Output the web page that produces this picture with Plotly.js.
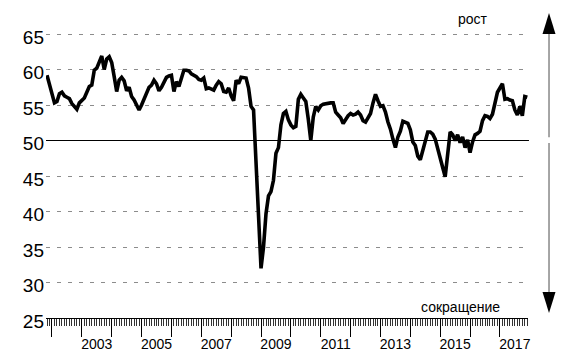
<!DOCTYPE html>
<html>
<head>
<meta charset="utf-8">
<script src="https://cdn.plot.ly/plotly-3.0.1.min.js"></script>
<style>html,body{margin:0;padding:0;background:#fff;}#chart{width:565px;height:362px;}</style>
</head>
<body>
<div id="chart"></div>
<script>
// Monthly index values, Nov 2001 .. Dec 2017
const v2001 = [59.2, 57.8]; // Nov, Dec
const v2002 = [56.5,55.3,55.5,56.6,56.8,56.3,56.1,55.9,55.2,54.8,54.4,55.3];
const v2003 = [55.7,56.0,56.8,57.6,57.8,59.9,60.2,61.0,61.9,60.0,61.5,61.8];
const v2004 = [61.0,59.0,56.9,58.5,58.9,58.4,57.0,57.5,56.2,55.7,55.0,54.3];
const v2005 = [55.0,55.8,56.5,57.5,57.8,58.5,58.0,57.0,57.5,58.3,58.9,59.1];
const v2006 = [59.2,56.9,58.3,57.6,59.0,59.9,59.9,59.8,59.4,59.2,59.0,58.6];
const v2007 = [58.5,58.8,57.3,57.4,57.3,57.1,57.8,58.3,58.0,56.9,56.8,57.4];
const v2008 = [56.3,55.6,58.5,58.0,58.9,58.9,58.8,57.4,54.8,54.3,46.5,38.5];
const v2009 = [32.0,35.0,39.7,42.2,42.8,44.4,48.2,49.0,52.2,53.8,54.1,52.9];
const v2010 = [52.2,51.8,52.0,55.8,56.5,56.0,55.5,53.0,50.0,53.3,54.8,54.3];
const v2011 = [54.9,55.1,55.2,55.2,55.3,55.3,54.0,53.6,53.2,52.4,53.0,53.5];
const v2012 = [53.8,53.6,53.7,54.0,53.6,52.8,52.6,53.2,53.8,55.3,56.5,55.6];
const v2013 = [54.8,54.9,54.0,52.6,51.6,50.2,49.0,50.5,51.3,52.7,52.6,52.4];
const v2014 = [51.5,49.8,49.3,47.8,47.3,48.5,50.1,51.2,51.2,50.9,50.2,48.7];
const v2015 = [47.6,46.2,44.9,48.2,51.2,50.8,50.0,50.8,49.7,50.5,49.0,50.1];
const v2016 = [48.3,49.8,50.8,51.0,51.3,52.8,53.5,53.4,53.1,53.7,55.5,56.8];
const v2017 = [57.4,58.0,55.8,55.9,55.7,55.6,54.3,53.6,54.8,53.5,56.2,56.1];

const startYear = 2001, startMonth = 10; // 0-based month (Nov)
const threshold = 50;
const labelYears = ['2003','2005','2007','2009','2011','2013','2015','2017'];
const yearTicks = [2002,2003,2004,2005,2006,2007,2008,2009,2010,2011,2012,2013,2014,2015,2016,2017,2018];
const yTicks = [25,30,35,40,45,50,55,60,65];
const topLabel = 'рост';
const bottomLabel = 'сокращение';

const values = [].concat(v2001,v2002,v2003,v2004,v2005,v2006,v2007,v2008,v2009,v2010,v2011,v2012,v2013,v2014,v2015,v2016,v2017);
const xs = values.map((_, i) => startYear + (startMonth + i) / 12);

const font = 'Liberation Sans, Arial, sans-serif';
const xRange = [2001.80, 2017.94];

const traces = [{
  x: xs, y: values, type: 'scatter', mode: 'lines',
  line: {color: '#000', width: 3.6}, xaxis: 'x', yaxis: 'y', hoverinfo: 'skip'
}, {
  x: [xRange[0]], y: [null], type: 'scatter', mode: 'lines', xaxis: 'x2', yaxis: 'y',
  showlegend: false, hoverinfo: 'skip'
}];

const layout = {
  width: 565, height: 362,
  margin: {l: 46, r: 37, t: 13, b: 44},
  paper_bgcolor: '#fff', plot_bgcolor: '#fff',
  showlegend: false,
  font: {family: font, color: '#000'},
  xaxis: {
    range: xRange, showgrid: false, zeroline: false,
    showline: true, linecolor: '#000', linewidth: 1,
    tickmode: 'array', tickvals: yearTicks, ticktext: yearTicks.map(() => ''),
    ticks: 'outside', ticklen: 18, tickcolor: '#000', tickwidth: 1,
    minor: {tickmode: 'linear', tick0: 2002, dtick: 1/12, ticks: 'outside', ticklen: 7, tickcolor: '#333', tickwidth: 1, showgrid: false}
  },
  xaxis2: {
    overlaying: 'x', matches: 'x', anchor: 'y', side: 'bottom',
    range: xRange, showgrid: false, zeroline: false, showline: false,
    tickmode: 'array', tickvals: labelYears.map(y => +y + 0.5), ticktext: labelYears,
    ticks: 'outside', ticklen: 13, tickcolor: 'rgba(0,0,0,0)',
    tickfont: {family: font, size: 14, color: '#000'}
  },
  yaxis: {
    range: [25, 67.96], showline: false, zeroline: false,
    tickmode: 'array', tickvals: yTicks, ticks: '',
    tickfont: {family: font, size: 19, color: '#000'},
    ticklabelshift: 3, ticklabelstandoff: 1,
    showgrid: true, gridcolor: '#8c8c8c', gridwidth: 1, griddash: '4px,7px'
  },
  shapes: [
    {type: 'line', xref: 'paper', yref: 'y', x0: 0, x1: 1.002, y0: threshold, y1: threshold, line: {color: '#000', width: 1}},
    {type: 'line', xref: 'paper', yref: 'paper', x0: 1.0436, x1: 1.0436, y0: 0.931, y1: 0.593, line: {color: '#888', width: 1.5}},
    {type: 'line', xref: 'paper', yref: 'paper', x0: 1.0436, x1: 1.0436, y0: 0.574, y1: 0.085, line: {color: '#888', width: 1.5}},
    {type: 'path', xref: 'paper', yref: 'paper', path: 'M 1.0301 0.931 L 1.0571 0.931 L 1.0436 1.0 Z', fillcolor: '#000', line: {color: '#000', width: 0}},
    {type: 'path', xref: 'paper', yref: 'paper', path: 'M 1.0301 0.085 L 1.0571 0.085 L 1.0436 0.016 Z', fillcolor: '#000', line: {color: '#000', width: 0}}
  ],
  annotations: [
    {text: topLabel, xref: 'paper', yref: 'paper', x: 0.886, y: 0.980, showarrow: false, xanchor: 'center', yanchor: 'middle', font: {family: font, size: 14, color: '#000'}},
    {text: bottomLabel, xref: 'paper', yref: 'paper', x: 0.859, y: 0.036, showarrow: false, xanchor: 'center', yanchor: 'middle', font: {family: font, size: 14, color: '#000'}}
  ]
};

Plotly.newPlot('chart', traces, layout, {staticPlot: true, displayModeBar: false});
</script>
</body>
</html>
